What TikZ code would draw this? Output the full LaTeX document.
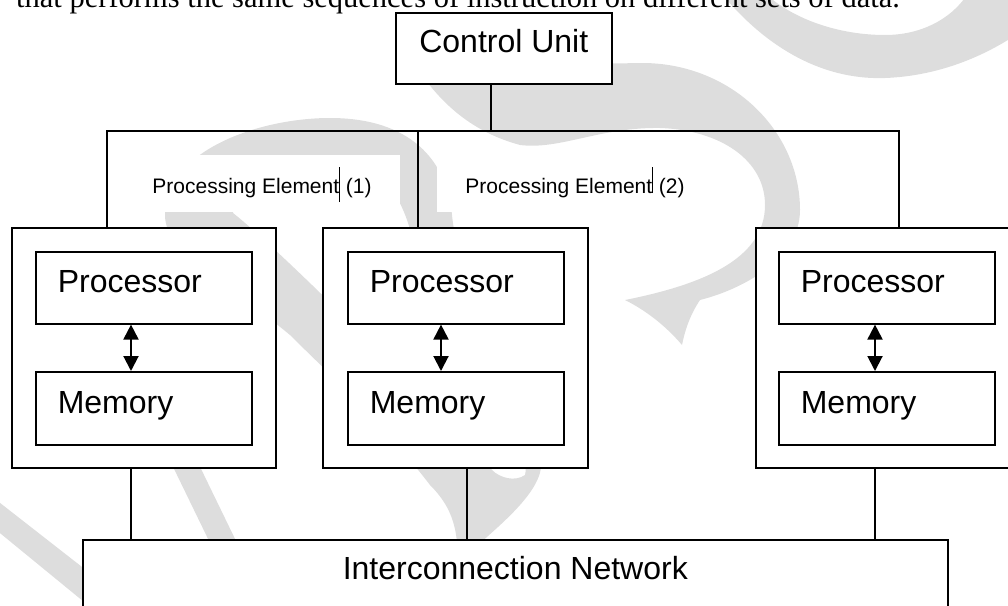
\documentclass[tikz,border=0pt]{standalone}
\usepackage{fontspec}
\setmainfont{Liberation Sans}
\newfontfamily\introfont{Liberation Serif}
\usetikzlibrary{arrows.meta,positioning}
\definecolor{wmgray}{RGB}{221,221,221}
\newcommand{\fsz}[1]{\fontsize{#1}{#1}\selectfont}

\begin{document}
\begin{tikzpicture}[x=1pt, y=-1pt,
    every node/.style={font=\fsz{32}},
    wire/.style={line width=1.6pt},
    cellbox/.style={draw, line width=1.6pt, fill=white, anchor=north west, inner sep=0pt},
    pebox/.style={cellbox, minimum width=264pt, minimum height=240pt},
    unitbox/.style={cellbox, inner xsep=22pt, text width=172pt, align=left, minimum height=72pt, text height=10pt, text depth=0pt},
    pelabel/.style={fill=white, inner sep=0pt, minimum width=276pt, minimum height=57pt, text height=19pt, text depth=0pt, font=\fsz{21}},
    dbl/.style={{Triangle[width=15pt,length=15pt]}-{Triangle[width=15pt,length=15pt]}, line width=2pt},
    wm/.style={fill=wmgray}]
  \useasboundingbox (0,0) rectangle (1008,605);
  \clip (0,0) rectangle (1008,605);

  % watermark behind the diagram
  \fill[wm] (727,0) .. controls (775,55) and (830,80) .. (885,78) .. controls (940,76) and (990,55) .. (1030,25)
    -- (1030,-5) -- (967,-5) .. controls (950,20) and (920,35) .. (885,35) .. controls (840,35) and (795,20) .. (767,-5) -- (727,-5) -- cycle;
  \fill[wm] (400,40) .. controls (470,60) and (560,65) .. (640,63) .. controls (730,62) and (800,130) .. (800,210)
    .. controls (800,260) and (740,290) .. (700,300) .. controls (690,315) and (685,330) .. (682,345)
    .. controls (665,325) and (645,310) .. (625,300) .. controls (700,285) and (765,260) .. (765,205)
    .. controls (765,160) and (720,130) .. (660,128) .. controls (600,127) and (560,150) .. (520,145)
    .. controls (465,130) and (430,95) .. (400,40) -- cycle;
  \fill[wm, even odd rule] (460,562) .. controls (455,540) and (460,515) .. (430,485) .. controls (380,420) and (320,365) .. (290,335)
    .. controls (230,285) and (165,255) .. (165,215) .. controls (165,150) and (260,118) .. (330,118)
    .. controls (410,118) and (447,160) .. (452,215) .. controls (460,300) and (545,420) .. (541,467)
    .. controls (538,500) and (480,540) .. (460,562) -- cycle
    (233,213) .. controls (240,175) and (290,160) .. (330,160) .. controls (385,162) and (405,200) .. (415,250)
    .. controls (430,330) and (535,440) .. (525,475) .. controls (515,482) and (500,478) .. (492,470)
    .. controls (420,390) and (280,250) .. (233,213) -- cycle;
  \fill[wm] (92,300) -- (119,300) -- (272,615) -- (245,615) -- cycle;
  \fill[wm] (-5,499) -- (100,581) -- (100,615) -- (-5,529) -- cycle;

  \node[font=\introfont\fsz{30.5}, anchor=base west, inner sep=0pt] (intro) at (16,8) {that performs the same sequences of instruction on different sets of data.};

  \node[cellbox, minimum width=216pt, minimum height=71pt, text height=9pt, text depth=0pt] (cu) at (395,12) {Control Unit};

  \node[pelabel] (lab1) at (262,183.5) {Processing Element\rule[-9pt]{0.8pt}{35pt} (1)};
  \node[pelabel] (lab2) at (575,183.5) {Processing Element\rule{0.8pt}{26pt} (2)};

  \node[pebox] (pe1) at (11,227) {};
  \node[pebox, minimum width=265pt] (pe2) at (322,227) {};
  \node[pebox] (pe3) at (755,227) {};

  \node[unitbox] (proc1) at (35,251) {Processor};
  \node[unitbox, minimum height=73pt] (mem1) at (35,371) {Memory};
  \node[unitbox] (proc2) at (347,251) {Processor};
  \node[unitbox, minimum height=73pt] (mem2) at (347,371) {Memory};
  \node[unitbox] (proc3) at (778,251) {Processor};
  \node[unitbox, minimum height=73pt] (mem3) at (778,371) {Memory};

  \node[cellbox, minimum width=865pt, minimum height=70pt, text height=10pt, text depth=0pt] (net) at (82,539) {Interconnection Network};

  \coordinate (cuout) at (491,131);
  \coordinate (bus1) at (107,131);
  \coordinate (bus2) at (418,131);
  \coordinate (bus3) at (899,131);
  \draw[wire] (cu.south -| cuout) -- (cuout);
  \draw[wire] (pe1.north -| bus1) -- (bus1) -- (bus3) -- (pe3.north -| bus3);
  \draw[wire] (bus2) -- (pe2.north -| bus2);

  \foreach \i/\ax/\nx in {1/131/131, 2/441/467, 3/875/875} {
    \coordinate (ax\i) at (\ax,0);
    \coordinate (nx\i) at (\nx,0);
    \draw[dbl] (proc\i.south -| ax\i) -- (mem\i.north -| ax\i);
    \draw[wire] (pe\i.south -| nx\i) -- (net.north -| nx\i);
  }
\end{tikzpicture}
\end{document}
